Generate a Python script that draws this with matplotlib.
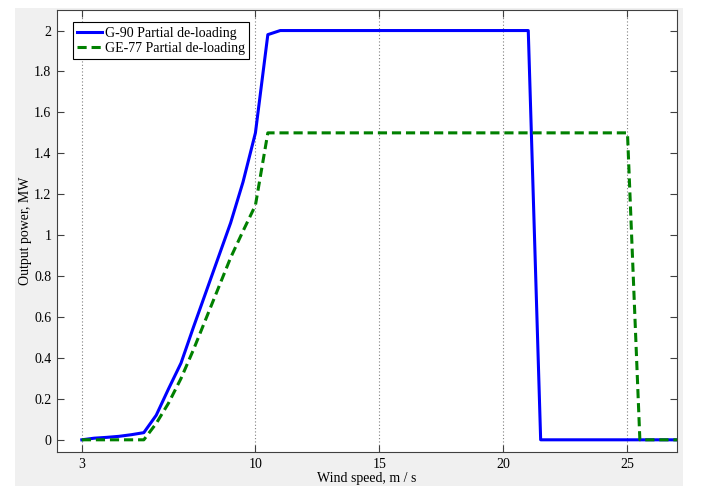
import numpy as np
import matplotlib
matplotlib.use('Agg')
import matplotlib.pyplot as plt
from matplotlib.patches import Rectangle

# wind speed (m/s) and output power (MW)
g90_speed = [3, 3.5, 4, 4.5, 5, 5.5, 6, 6.5, 7, 7.5, 8, 8.5, 9, 9.5, 10, 10.5, 11, 21, 21.5, 27]
g90_power = [0, 0.008, 0.012, 0.017, 0.025, 0.035, 0.12, 0.25, 0.375, 0.55, 0.72, 0.89, 1.06, 1.26, 1.5, 1.98, 2.0, 2.0, 0, 0]

ge77_speed = [3, 3.5, 4, 4.5, 5, 5.5, 6, 6.5, 7, 7.5, 8, 8.5, 9, 9.5, 10, 10.5, 25, 25.5, 27]
ge77_power = [0, 0, 0, 0, 0, 0, 0.08, 0.18, 0.3, 0.44, 0.59, 0.74, 0.89, 1.02, 1.146, 1.5, 1.5, 0, 0]

x_ticks = [3, 10, 15, 20, 25]
y_ticks = [0, 0.2, 0.4, 0.6, 0.8, 1.0, 1.2, 1.4, 1.6, 1.8, 2.0]
y_tick_labels = ['0', '0.2', '0.4', '0.6', '0.8', '1', '1.2', '1.4', '1.6', '1.8', '2']

plt.rcParams['font.family'] = ['Liberation Serif', 'DejaVu Serif']
plt.rcParams['font.size'] = 10

fig = plt.figure(figsize=(7.18, 5.04), dpi=100)
fig.patch.set_facecolor('white')
# grey MATLAB-style figure window
fig.patches.append(Rectangle((0.021, 0.036), 0.930, 0.948, transform=fig.transFigure,
                             facecolor='#f0f0f0', edgecolor='none', zorder=-10))

ax = fig.add_axes([0.0794, 0.103, 0.8636, 0.877])
ax.set_facecolor('white')

ax.plot(g90_speed, g90_power, color='#0000ff', linewidth=2.2, label='G-90 Partial de-loading')
ax.plot(ge77_speed, ge77_power, color='#008000', linewidth=2.2, linestyle=(0, (3, 1.6)),
        label='GE-77 Partial de-loading')

ax.set_xlim(2, 27)
ax.set_ylim(-0.06, 2.1)
ax.set_xticks(x_ticks)
ax.set_yticks(y_ticks)
ax.set_yticklabels(y_tick_labels)

ax.xaxis.grid(True, linestyle=(0, (1, 2)), color='#808080', linewidth=0.8)
ax.yaxis.grid(False)
ax.set_axisbelow(True)

ax.tick_params(direction='in', length=5, width=0.8, color='#404040',
               top=True, right=True, labelcolor='black', pad=4)
for s in ax.spines.values():
    s.set_color('#404040')
    s.set_linewidth(0.8)

ax.set_xlabel('Wind speed, m / s', labelpad=1)
ax.set_ylabel('Output power, MW')
ax.yaxis.set_label_coords(-0.041, 0.5)

leg = ax.legend(loc='upper left', bbox_to_anchor=(0.026, 0.972), fancybox=False,
                framealpha=1, edgecolor='black', handlelength=1.8, handletextpad=0.2,
                borderpad=0.3, labelspacing=0.15, borderaxespad=0)
leg.get_frame().set_linewidth(0.8)

fig.savefig('out.png', dpi=100)
